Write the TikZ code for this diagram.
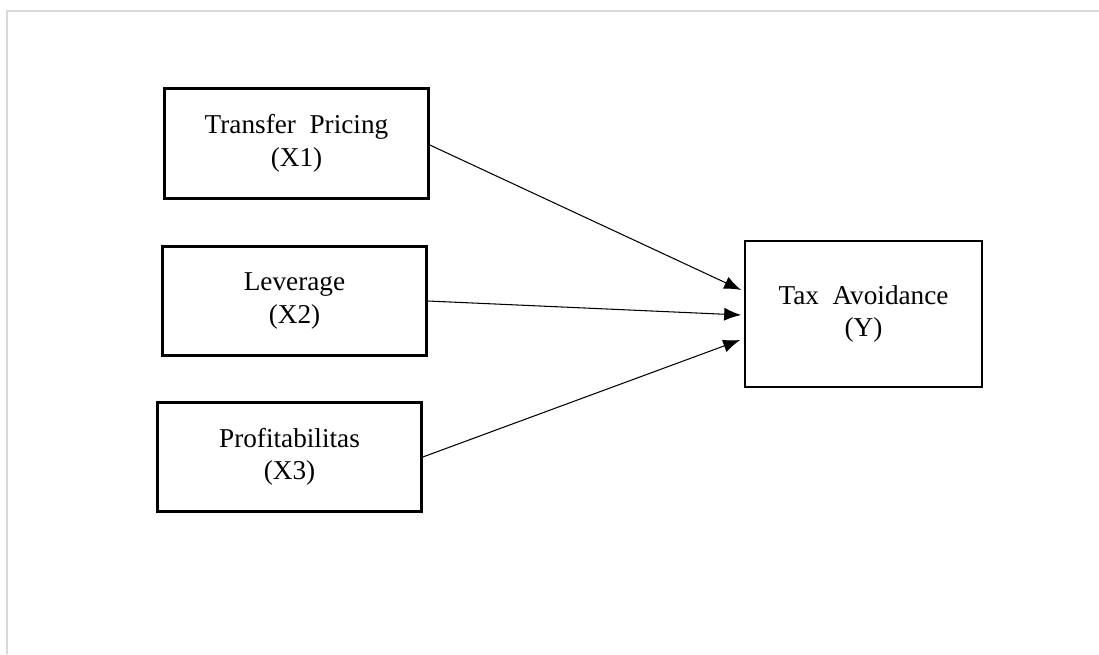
\documentclass[tikz,border=0pt]{standalone}
\usepackage{fontspec}
\setmainfont{Liberation Serif}
\usetikzlibrary{arrows.meta}

\begin{document}
\begin{tikzpicture}[->, >={Latex[length=0.34cm,width=0.26cm]}, line width=0.6pt,
    var/.style={rectangle, draw, line width=1.5pt, align=center, inner sep=0pt,
      font=\fontsize{15.5}{18.5}\selectfont, minimum width=5.28cm, minimum height=2.19cm}]
    \useasboundingbox (0,0) rectangle (21.98,-13.08);
    % Frame
    \draw[-, gray!30, line width=0.8pt] (0.14,-13.08) -- (0.14,-0.22) -- (21.98,-0.22);

    % Nodes
    \node[var] (x1) at (5.93,-2.87) {Transfer\ \ Pricing\\(X1)};
    \node[var] (x2) at (5.89,-6.02) {Leverage\\(X2)};
    \node[var] (x3) at (5.79,-9.14) {Profitabilitas\\(X3)};
    \node[var, minimum width=4.74cm, minimum height=2.92cm] (y) at (17.27,-6.28) {Tax\ \ Avoidance\\(Y)};

    % Edges
    \draw ([yshift=-0.03cm]x1.east) -- ([xshift=-0.05cm,yshift=0.48cm]y.west);
    \draw (x2.east) -- ([xshift=-0.05cm,yshift=-0.02cm]y.west);
    \draw (x3.east) -- ([xshift=-0.07cm,yshift=-0.52cm]y.west);

\end{tikzpicture}
\end{document}
